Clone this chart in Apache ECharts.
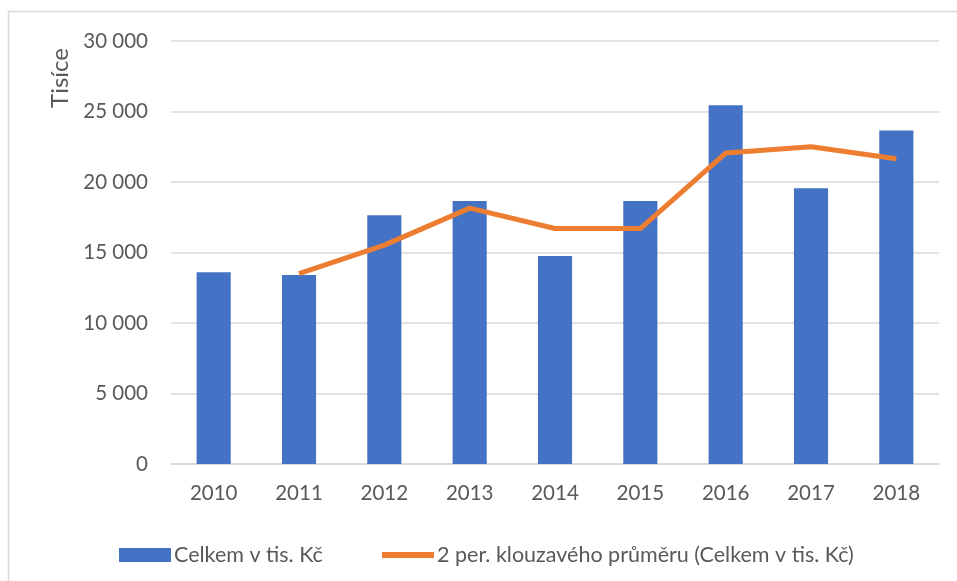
<!DOCTYPE html>
<html><head><meta charset="utf-8">
<script src="https://cdn.jsdelivr.net/npm/echarts@6/dist/echarts.min.js"></script>
<style>html,body{margin:0;padding:0;background:#fff}#c{width:957px;height:581px}</style>
</head><body><div id="c"></div>
<script>
const years = ['2010','2011','2012','2013','2014','2015','2016','2017','2018'];
const totals = [13600, 13400, 17650, 18650, 14750, 18650, 25450, 19550, 23650];
const movingAvg = [null, 13500, 15525, 18150, 16700, 16700, 22050, 22500, 21650];
const yTicks = [0, 5000, 10000, 15000, 20000, 25000, 30000];
const barName = 'Celkem v tis. Kč';
const lineName = '2 per. klouzavého průměru (Celkem v tis. Kč)';
const axisTitle = 'Tisíce';

const FONT = 'Lato';
const chart = echarts.init(document.getElementById('c'));
chart.setOption({
  animation: false,
  textStyle: {fontFamily: FONT},
  graphic: [
    {type:'rect', shape:{x:8.5,y:11.5,width:1000,height:1000}, style:{fill:'none',stroke:'#D9D9D9',lineWidth:1.5}, silent:true},
    {type:'text', x:60, y:78, rotation:Math.PI/2, style:{text:axisTitle, fill:'#595959', font:'24px '+FONT, textAlign:'center', textVerticalAlign:'middle'}}
  ],
  grid: {left:171, right:18, top:41, bottom:117},
  legend: [
    {data:[{name:barName, icon:'rect'}], left:114, top:539, itemWidth:52, itemHeight:14, itemGap:0,
     textStyle:{color:'#595959', fontSize:21.5, fontFamily:FONT, padding:[0,0,0,-2]}},
    {data:[{name:lineName, icon:'rect'}], left:377, top:539, itemWidth:52, itemHeight:6,
     textStyle:{color:'#595959', fontSize:21.5, fontFamily:FONT, padding:[0,0,0,-2]}}
  ],
  xAxis: {
    type:'category', data:years,
    axisLine:{lineStyle:{color:'#D9D9D9', width:1.5}},
    axisTick:{show:false},
    axisLabel:{color:'#595959', fontSize:20.5, fontFamily:FONT, margin:19}
  },
  yAxis: {
    type:'value', min:0, max:30000, interval:5000,
    axisLine:{show:false}, axisTick:{show:false},
    splitLine:{lineStyle:{color:'#D9D9D9', width:1.5}},
    axisLabel:{color:'#595959', fontSize:20.5, fontFamily:FONT, margin:23,
      formatter: v => yTicks.includes(v) ? String(v).replace(/\B(?=(\d{3})+(?!\d))/g,' ') : ''}
  },
  series: [
    {name:barName, type:'bar', data:totals, barWidth:'40%', itemStyle:{color:'#4472C4'}},
    {name:lineName, type:'line', data:movingAvg, showSymbol:false, symbol:'none', connectNulls:false,
     lineStyle:{color:'#ED7D31', width:5, cap:'butt', join:'round'}, itemStyle:{color:'#ED7D31'}}
  ]
});
</script></body></html>
